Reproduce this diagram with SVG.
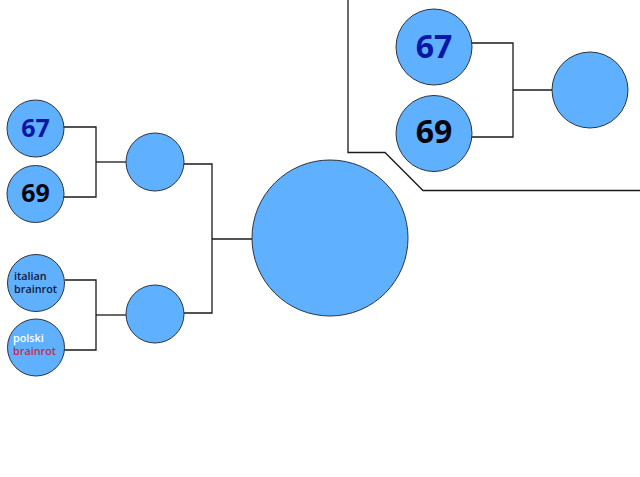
<svg xmlns="http://www.w3.org/2000/svg" width="640" height="477" viewBox="0 0 640 477">
<style>
.n{fill:#5fb0ff;stroke:#2b3440;stroke-width:1}
.c{fill:none;stroke:#1a1a1a;stroke-width:1.3}
.t{font-family:"Open Sans","Noto Sans",sans-serif;font-weight:700;text-anchor:middle}
.s{font-family:"Open Sans","Noto Sans",sans-serif;font-weight:600;font-size:10.8px}
</style>
<rect width="640" height="477" fill="#ffffff"/>
<g id="connectors">
<polyline class="c" points="63,127 96,127 96,197 63,197"/>
<line class="c" x1="96" y1="162" x2="126" y2="162"/>
<polyline class="c" points="65,280 96,280 96,350 64,350"/>
<line class="c" x1="96" y1="315" x2="126" y2="315"/>
<polyline class="c" points="184,164 212,164 212,313 184,313"/>
<line class="c" x1="212" y1="239" x2="252" y2="239"/>
<polyline class="c" points="472,43 513,43 513,137 472,137"/>
<line class="c" x1="513" y1="90" x2="552" y2="90"/>
</g>
<g id="frame">
<polyline class="c" points="348,0 348,152.5 385,152.5 423,190.5 640,190.5"/>
</g>
<g id="n67a"><circle class="n" cx="35.5" cy="128.5" r="28.5"/><text class="t" x="35.5" y="137" font-size="25" fill="#0a16a8">67</text></g>
<g id="n69a"><circle class="n" cx="35.5" cy="194" r="28.5"/><text class="t" x="35.5" y="202" font-size="25" fill="#050510">69</text></g>
<g id="nitalian"><circle class="n" cx="36" cy="283" r="28.5"/><text class="s" fill="#101a3a"><tspan x="14" y="279.5">italian</tspan><tspan x="14" y="292.5">brainrot</tspan></text></g>
<g id="npolski"><circle class="n" cx="36" cy="347.5" r="28.5"/><text class="s"><tspan x="13" y="342" fill="#ffffff">polski</tspan><tspan x="13" y="355" fill="#c8284a">brainrot</tspan></text></g>
<g id="nmid1"><circle class="n" cx="155" cy="162" r="29"/></g>
<g id="nmid2"><circle class="n" cx="155" cy="314" r="29"/></g>
<g id="nbig"><circle class="n" cx="330" cy="238" r="78"/></g>
<g id="n67b"><circle class="n" cx="434" cy="47" r="38"/><text class="t" x="434" y="57.5" font-size="32" fill="#0a16a8">67</text></g>
<g id="n69b"><circle class="n" cx="434" cy="133.5" r="38"/><text class="t" x="434" y="143" font-size="32" fill="#050510">69</text></g>
<g id="nright"><circle class="n" cx="590" cy="90" r="38"/></g>
</svg>
